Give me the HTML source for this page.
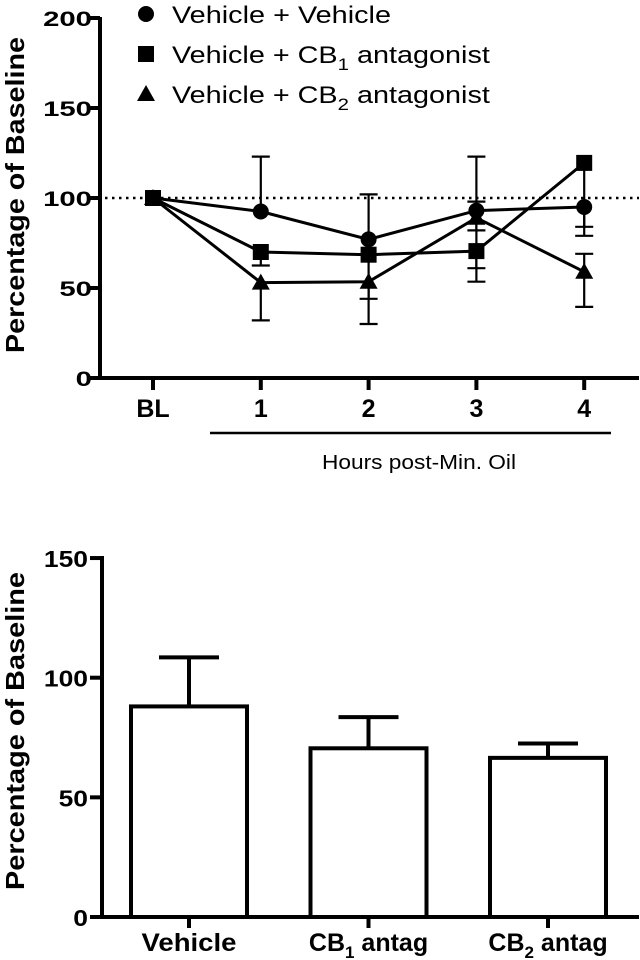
<!DOCTYPE html>
<html><head><meta charset="utf-8"><style>
html,body{margin:0;padding:0;background:#fff;width:640px;height:960px;overflow:hidden}
svg text{font-family:"Liberation Sans",Arial,sans-serif;fill:#000}
</style></head><body>
<svg id="chart" width="640" height="960" viewBox="0 0 640 960" xmlns="http://www.w3.org/2000/svg"></svg>
<script>
// Top chart data
const timeLabels = ["BL","1","2","3","4"];
const vehMean = [100, 92.5, 77, 93, 95];
const vehUp   = [0, 30.5, 25, 30, 0];
const vehDown = [0, 0, 0, 11, 11];
const cb1Mean = [100, 70, 68.5, 70.5, 119.5];
const cb1Up   = [0, 0, 0, 0, 0];
const cb1Down = [0, 7.5, 24.5, 9.5, 40.5];
const cb2Mean = [100, 53, 53.5, 89, 59];
const cb2Up   = [0, 0, 0, 9, 10];
const cb2Down = [0, 21, 23.5, 35.5, 19.5];
const topTicks = [0, 50, 100, 150, 200];
// Bottom chart data
const barCats = ["Vehicle","CB1 antag","CB2 antag"];
const barMean = [88, 70.5, 66.5];
const barSem  = [20.5, 13, 6];
const botTicks = [0, 50, 100, 150];

const NS="http://www.w3.org/2000/svg";
const svg=document.getElementById('chart');
function mk(tag,attrs,parent){const e=document.createElementNS(NS,tag);for(const k in attrs)e.setAttribute(k,attrs[k]);(parent||svg).appendChild(e);return e;}

// ---------- TOP ----------
const tY=v=>378-v*1.8;
const tX=i=>153+i*107.8;
const g1=mk('g',{});


let ya=mk('line',{x1:100,y1:17,x2:100,y2:380,stroke:'#000','stroke-width':4},g1);

let xa=mk('line',{x1:98,y1:378,x2:639,y2:378,stroke:'#000','stroke-width':4},g1);

topTicks.forEach(v=>{
  mk('line',{x1:88,y1:tY(v),x2:100,y2:tY(v),stroke:'#000','stroke-width':4},g1);
  const s=String(v);
  const t=mk('text',{x:92,y:tY(v)+8,'text-anchor':'end','font-size':21,'font-weight':'bold',textLength:16.3*s.length,lengthAdjust:'spacingAndGlyphs'},g1);
  t.textContent=s;
  
});
timeLabels.forEach((l,i)=>{
  mk('line',{x1:tX(i),y1:378,x2:tX(i),y2:390,stroke:'#000','stroke-width':4},g1);
  const t=mk('text',{x:tX(i),y:417,'text-anchor':'middle','font-size':25,'font-weight':'bold'},g1);
  t.textContent=l;
  
});
let yt=mk('text',{x:0,y:0,transform:'translate(24,195) rotate(-90)','text-anchor':'middle','font-size':26,'font-weight':'bold',textLength:316,lengthAdjust:'spacingAndGlyphs'},g1);
yt.textContent='Percentage of Baseline';

let hl=mk('line',{x1:210,y1:433,x2:611,y2:433,stroke:'#000','stroke-width':2.5},g1);

let ht=mk('text',{x:419,y:469,'text-anchor':'middle','font-size':20,textLength:194,lengthAdjust:'spacingAndGlyphs'},g1);
ht.textContent='Hours post-Min. Oil';

let ref=mk('line',{x1:105,y1:tY(100),x2:639,y2:tY(100),stroke:'#000','stroke-width':2.5,'stroke-dasharray':'2.5 4.5'},g1);


function marker(kind,x,y,parent){
  if(kind==='circle')return mk('circle',{cx:x,cy:y,r:8,fill:'#000'},parent);
  if(kind==='square')return mk('rect',{x:x-8,y:y-8,width:16,height:16,fill:'#000'},parent);
  return mk('polygon',{points:`${x},${y-9} ${x-9},${y+7} ${x+9},${y+7}`,fill:'#000'},parent);
}
const series=[
  {name:'vehicle-vehicle',mean:vehMean,up:vehUp,down:vehDown,kind:'circle'},
  {name:'vehicle-cb1',mean:cb1Mean,up:cb1Up,down:cb1Down,kind:'square'},
  {name:'vehicle-cb2',mean:cb2Mean,up:cb2Up,down:cb2Down,kind:'triangle'}
];
series.forEach(s=>{
  const g=mk('g',{},g1);
  
  
  s.mean.forEach((m,i)=>{
    [[s.up[i],1],[s.down[i],-1]].forEach(([e,dir])=>{
      if(e>0){
        const ye=tY(m+dir*e);
        const eb=mk('path',{d:`M${tX(i)} ${tY(m)}V${ye}M${tX(i)-9} ${ye}h18`,stroke:'#000','stroke-width':2.2,fill:'none'},g);
        
      }
    });
  });
  const ln=mk('polyline',{points:s.mean.map((m,i)=>tX(i)+','+tY(m)).join(' '),stroke:'#000','stroke-width':3,fill:'none'},g);
  
  s.mean.forEach((m,i)=>{
    const mm=marker(s.kind,tX(i),tY(m),g);
    
  });
});
// legend
const legend=[['circle','Vehicle + Vehicle','',219],['square','Vehicle + CB','1',322],['triangle','Vehicle + CB','2',322]];
legend.forEach((l,i)=>{
  const g=mk('g',{},g1);
  
  
  const y=14+i*40;
  marker(l[0],146,y,g);
  const t=mk('text',{x:172,y:y+9,'font-size':24},g);
  if(!l[2]){t.textContent=l[1];t.setAttribute('textLength',l[3]);t.setAttribute('lengthAdjust','spacingAndGlyphs');}
  else{
    t.setAttribute('transform',`translate(172 0) scale(1.2 1) translate(-172 0)`);
    const a=mk('tspan',{},t);a.textContent=l[1];
    const s=mk('tspan',{dy:7,'font-size':17},t);s.textContent=l[2];
    const r=mk('tspan',{dy:-7,'font-size':24},t);r.textContent=' antagonist';
  }
});

// ---------- BOTTOM ----------
const bY=v=>917-v*2.393;
const bX=i=>189+i*179.5;
const g2=mk('g',{});


barMean.forEach((m,i)=>{
  const g=mk('g',{},g2);
  
  
  mk('path',{d:`M${bX(i)} ${bY(m)}V${bY(m+barSem[i])}M${bX(i)-30} ${bY(m+barSem[i])}h60`,stroke:'#000','stroke-width':4,fill:'none'},g);
  mk('rect',{x:bX(i)-58,y:bY(m),width:116,height:917-bY(m),fill:'#fff',stroke:'#000','stroke-width':4},g);
});
let bya=mk('line',{x1:102,y1:556,x2:102,y2:919,stroke:'#000','stroke-width':4},g2);

let bxa=mk('line',{x1:100,y1:917,x2:639,y2:917,stroke:'#000','stroke-width':4},g2);

botTicks.forEach(v=>{
  mk('line',{x1:90,y1:bY(v),x2:102,y2:bY(v),stroke:'#000','stroke-width':4},g2);
  const s=String(v);
  const t=mk('text',{x:88,y:bY(v)+9,'text-anchor':'end','font-size':23,'font-weight':'bold',textLength:14.7*s.length,lengthAdjust:'spacingAndGlyphs'},g2);
  t.textContent=s;
  
});
barCats.forEach((c,i)=>{
  mk('line',{x1:bX(i),y1:917,x2:bX(i),y2:928,stroke:'#000','stroke-width':4},g2);
  const t=mk('text',{x:bX(i),y:951,'text-anchor':'middle','font-size':25,'font-weight':'bold'},g2);
  
  if(i===0){t.textContent=c;t.setAttribute('textLength',95);t.setAttribute('lengthAdjust','spacingAndGlyphs');}
  else{
    const a=mk('tspan',{},t);a.textContent='CB';
    const b=mk('tspan',{dy:7,'font-size':17},t);b.textContent=String(i);
    const d=mk('tspan',{dy:-7},t);d.textContent=' antag';
  }
});
let byt=mk('text',{x:0,y:0,transform:'translate(24,731) rotate(-90)','text-anchor':'middle','font-size':26,'font-weight':'bold',textLength:318,lengthAdjust:'spacingAndGlyphs'},g2);
byt.textContent='Percentage of Baseline';

</script>
</body></html>
